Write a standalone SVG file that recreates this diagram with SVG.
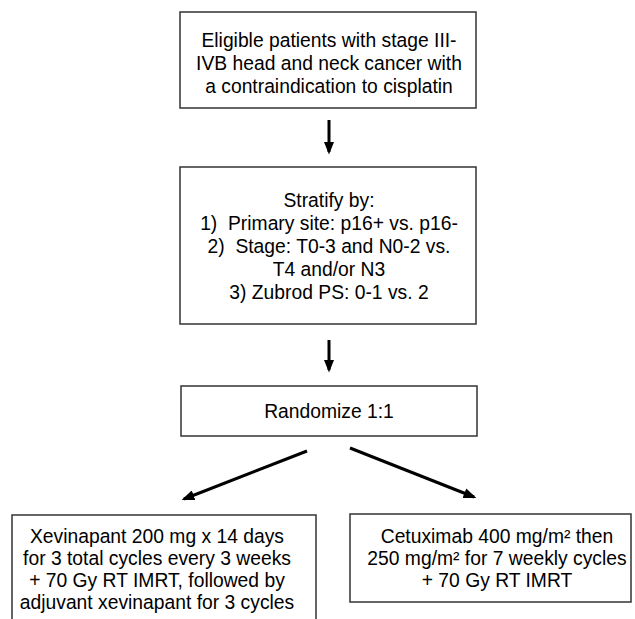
<svg xmlns="http://www.w3.org/2000/svg" width="635" height="619" viewBox="0 0 635 619">
<style>
.box{fill:#fff;stroke:#333;stroke-width:1.5}
text{font-family:"Liberation Sans",Arial,sans-serif;font-size:19.3px;fill:#000;text-anchor:middle;white-space:pre}
.arr{stroke:#000;stroke-width:3;fill:none}
</style>
<defs>
<marker id="ah" viewBox="0 0 10 8" refX="8" refY="4" markerWidth="4.3" markerHeight="3.44" orient="auto" markerUnits="strokeWidth">
<path d="M0,0 L10,4 L0,8 z" fill="#000"/>
</marker>
</defs>
<rect width="635" height="619" fill="#fff"/>
<g id="connectors">
<line class="arr" x1="329" y1="120" x2="329" y2="152" marker-end="url(#ah)"/>
<line class="arr" x1="329" y1="340" x2="329" y2="370" marker-end="url(#ah)"/>
<line class="arr" x1="307" y1="451" x2="184" y2="499" marker-end="url(#ah)"/>
<line class="arr" x1="350" y1="448" x2="474" y2="497" marker-end="url(#ah)"/>
</g>
<g id="eligible">
<rect class="box" x="180" y="12" width="296" height="96"/>
<text x="329" y="47">Eligible patients with stage III-</text>
<text x="329" y="70">IVB head and neck cancer with</text>
<text x="329" y="93">a contraindication to cisplatin</text>
</g>
<g id="stratify">
<rect class="box" x="180" y="167" width="296" height="157"/>
<text x="329" y="207">Stratify by:</text>
<text x="329" y="230">1)  Primary site: p16+ vs. p16-</text>
<text x="329" y="253">2)  Stage: T0-3 and N0-2 vs.</text>
<text x="329" y="276">T4 and/or N3</text>
<text x="329" y="299">3) Zubrod PS: 0-1 vs. 2</text>
</g>
<g id="randomize">
<rect class="box" x="181" y="386" width="296" height="50"/>
<text x="329" y="418">Randomize 1:1</text>
</g>
<g id="xevinapant">
<rect class="box" x="12" y="515" width="304" height="110"/>
<text x="157" y="543">Xevinapant 200 mg x 14 days</text>
<text x="157" y="565">for 3 total cycles every 3 weeks</text>
<text x="157" y="587">+ 70 Gy RT IMRT, followed by</text>
<text x="157" y="609">adjuvant xevinapant for 3 cycles</text>
</g>
<g id="cetuximab">
<rect class="box" x="350" y="514" width="281" height="88"/>
<text x="497" y="543">Cetuximab 400 mg/m² then</text>
<text x="497" y="565">250 mg/m² for 7 weekly cycles</text>
<text x="497" y="587">+ 70 Gy RT IMRT</text>
</g>
</svg>
